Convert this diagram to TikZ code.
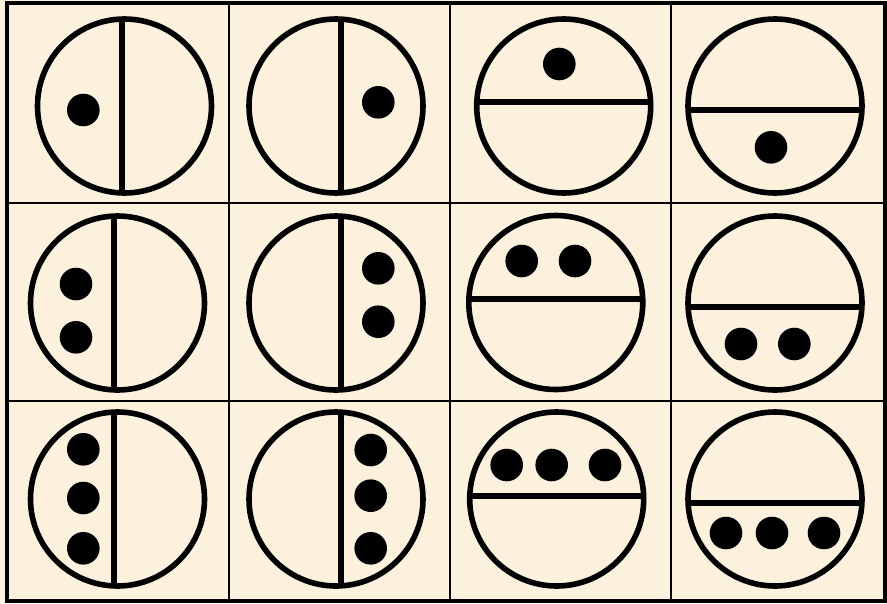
\documentclass[tikz,border=0pt]{standalone}
\usepackage{tikz}
\definecolor{paper}{RGB}{251,241,221}
\tikzset{
  ring/.style={draw=black,line width=5.6pt},
  divider/.style={draw=black,line width=6pt},
  dot/.style={fill=black},
  frame/.style={draw=black,line width=4.5pt},
  gridline/.style={draw=black,line width=2pt}
}
% vertical divider cell: centre x, centre y, line x
\newcommand{\cellv}[3]{%
  \begin{scope}\clip (#1,#2) circle (87);\draw[divider] (#3,#2-100) -- (#3,#2+100);\end{scope}
  \draw[ring] (#1,#2) circle (87);}
% horizontal divider cell: centre x, centre y, line y
\newcommand{\cellh}[3]{%
  \begin{scope}\clip (#1,#2) circle (87);\draw[divider] (#1-100,#3) -- (#1+100,#3);\end{scope}
  \draw[ring] (#1,#2) circle (87);}
\newcommand{\dotat}[2]{\fill[dot] (#1,#2) circle (16.3);}
\begin{document}
\begin{tikzpicture}[x=1pt,y=-1pt]
\useasboundingbox (0,0) rectangle (887,603);
\fill[paper] (0,0) rectangle (887,603);
% grid
\draw[gridline] (229,3) -- (229,601);
\draw[gridline] (450,3) -- (450,601);
\draw[gridline] (671,3) -- (671,601);
\draw[gridline] (7,203) -- (885,203);
\draw[gridline] (7,401) -- (885,401);
\draw[frame] (7,3) rectangle (885,601);
% row 1
\cellv{124.5}{106}{122.3} \dotat{83.3}{110}
\cellv{336}{106}{340.5} \dotat{378.3}{102.3}
\cellh{563.7}{106}{102} \dotat{559.3}{64}
\cellh{775}{106}{109.5} \dotat{771}{147.3}
% row 2
\cellv{117.5}{303}{114} \dotat{76}{284} \dotat{76}{337.3}
\cellv{336}{303}{340.7} \dotat{378.3}{268.3} \dotat{378.3}{321.7}
\cellh{555.8}{302.5}{299} \dotat{521.7}{261} \dotat{575}{261}
\cellh{775}{303}{307} \dotat{741}{344} \dotat{794.3}{344}
% row 3
\cellv{117.5}{499}{114} \dotat{83.3}{449.3} \dotat{83.3}{498} \dotat{83.3}{548.3}
\cellv{336}{499}{340.7} \dotat{370.7}{450} \dotat{370.7}{495.7} \dotat{370.7}{548.3}
\cellh{556.7}{499}{495.5} \dotat{506.7}{465} \dotat{551.7}{465} \dotat{605}{465}
\cellh{775}{499}{503} \dotat{726}{533} \dotat{772}{533} \dotat{824}{533}
\end{tikzpicture}
\end{document}
